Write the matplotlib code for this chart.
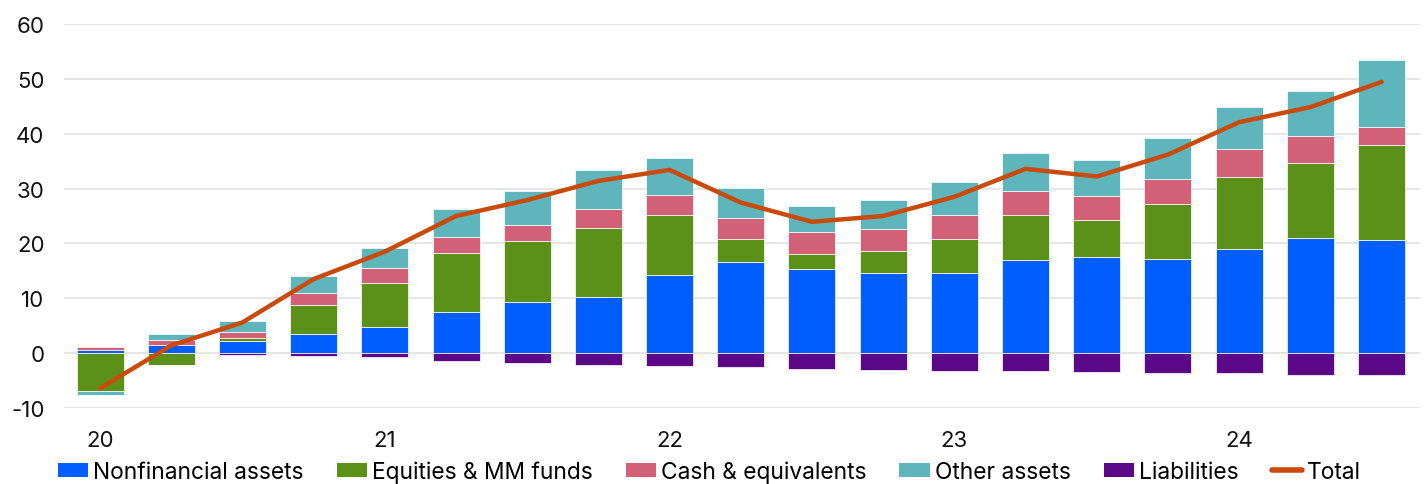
import numpy as np
import matplotlib
matplotlib.use('Agg')
import matplotlib.pyplot as plt
from matplotlib.patches import Patch
from matplotlib.lines import Line2D

# Quarterly contributions, 2020 Q1 .. 2024 Q3
quarters = ['20', '', '', '', '21', '', '', '', '22', '', '', '', '23', '', '', '', '24', '', '']
nonfinancial = [0.65, 1.4, 2.3, 3.4, 4.85, 7.45, 9.33, 10.3, 14.2, 16.6, 15.4, 14.67, 14.67, 16.97, 17.5, 17.15, 19.03, 20.9, 20.67]
equities = [-6.85, -2.1, 0.4, 5.45, 7.85, 10.75, 11.07, 12.55, 11.0, 4.25, 2.6, 4.0, 6.18, 8.23, 6.8, 9.95, 13.17, 13.77, 17.27]
cash = [0.5, 1.0, 1.2, 2.15, 2.8, 3.0, 3.05, 3.45, 3.6, 3.82, 4.12, 4.03, 4.35, 4.4, 4.37, 4.65, 5.1, 4.93, 3.26]
other = [-0.75, 1.0, 2.0, 3.1, 3.65, 5.0, 6.05, 7.1, 6.7, 5.39, 4.78, 5.3, 5.95, 6.8, 6.48, 7.55, 7.6, 8.1, 12.2]
liabilities = [-0.05, -0.05, -0.3, -0.55, -0.75, -1.5, -1.75, -2.1, -2.3, -2.6, -2.97, -3.15, -3.2, -3.33, -3.5, -3.7, -3.7, -3.9, -4.06]
total = [-6.4, 1.4, 5.6, 13.5, 18.5, 25.0, 27.9, 31.4, 33.4, 27.45, 23.94, 25.0, 28.5, 33.6, 32.2, 36.2, 42.1, 44.85, 49.45]

series = [
    ('Nonfinancial assets', nonfinancial, '#005EFF'),
    ('Equities & MM funds', equities, '#5C9119'),
    ('Cash & equivalents', cash, '#D26076'),
    ('Other assets', other, '#5EB5BC'),
    ('Liabilities', liabilities, '#5A0788'),
]
line_color = '#C94A0A'

plt.rcParams['font.family'] = ['Inter', 'DejaVu Sans']
plt.rcParams['axes.unicode_minus'] = False

fig = plt.figure(figsize=(14.24, 4.85), dpi=100)
ax = fig.add_axes([64 / 1424, (485 - 409) / 485, (1420 - 64) / 1424, (409 - 25) / 485])

x = np.arange(len(quarters))
pos_bottom = np.zeros(len(x))
neg_bottom = np.zeros(len(x))
handles = []
for name, vals, color in series:
    vals = np.array(vals)
    bottom = np.where(vals >= 0, pos_bottom, neg_bottom)
    ax.bar(x, vals, bottom=bottom, width=0.66, color=color,
           edgecolor='white', linewidth=0.5, zorder=2)
    pos_bottom = pos_bottom + np.where(vals >= 0, vals, 0)
    neg_bottom = neg_bottom + np.where(vals < 0, vals, 0)
    handles.append(Patch(facecolor=color, label=name))

ax.plot(x, total, color=line_color, linewidth=3.2, solid_capstyle='round',
        solid_joinstyle='round', zorder=3)
handles.append(Line2D([], [], color=line_color, linewidth=4, solid_capstyle='round', label='Total'))

ax.set_xlim(-0.506, 18.54)
ax.set_ylim(-10, 60)
ax.set_yticks(range(-10, 61, 10))
ax.set_xticks(x)
ax.set_xticklabels(quarters)
ax.grid(axis='y', color='#E2E2E2', linewidth=1.2, zorder=0)
ax.set_axisbelow(True)
for s in ax.spines.values():
    s.set_visible(False)
ax.tick_params(axis='both', length=0, labelsize=16, colors='#111111')
ax.tick_params(axis='y', pad=14)
ax.tick_params(axis='x', pad=16)

fig.legend(handles=handles, loc='lower left', bbox_to_anchor=(44 / 1424, -0.026),
           ncol=6, frameon=False, fontsize=16.4, handlelength=1.35, handleheight=0.6,
           handletextpad=0.2, columnspacing=1.45, borderaxespad=0.2)

fig.savefig('out.png', dpi=100)
